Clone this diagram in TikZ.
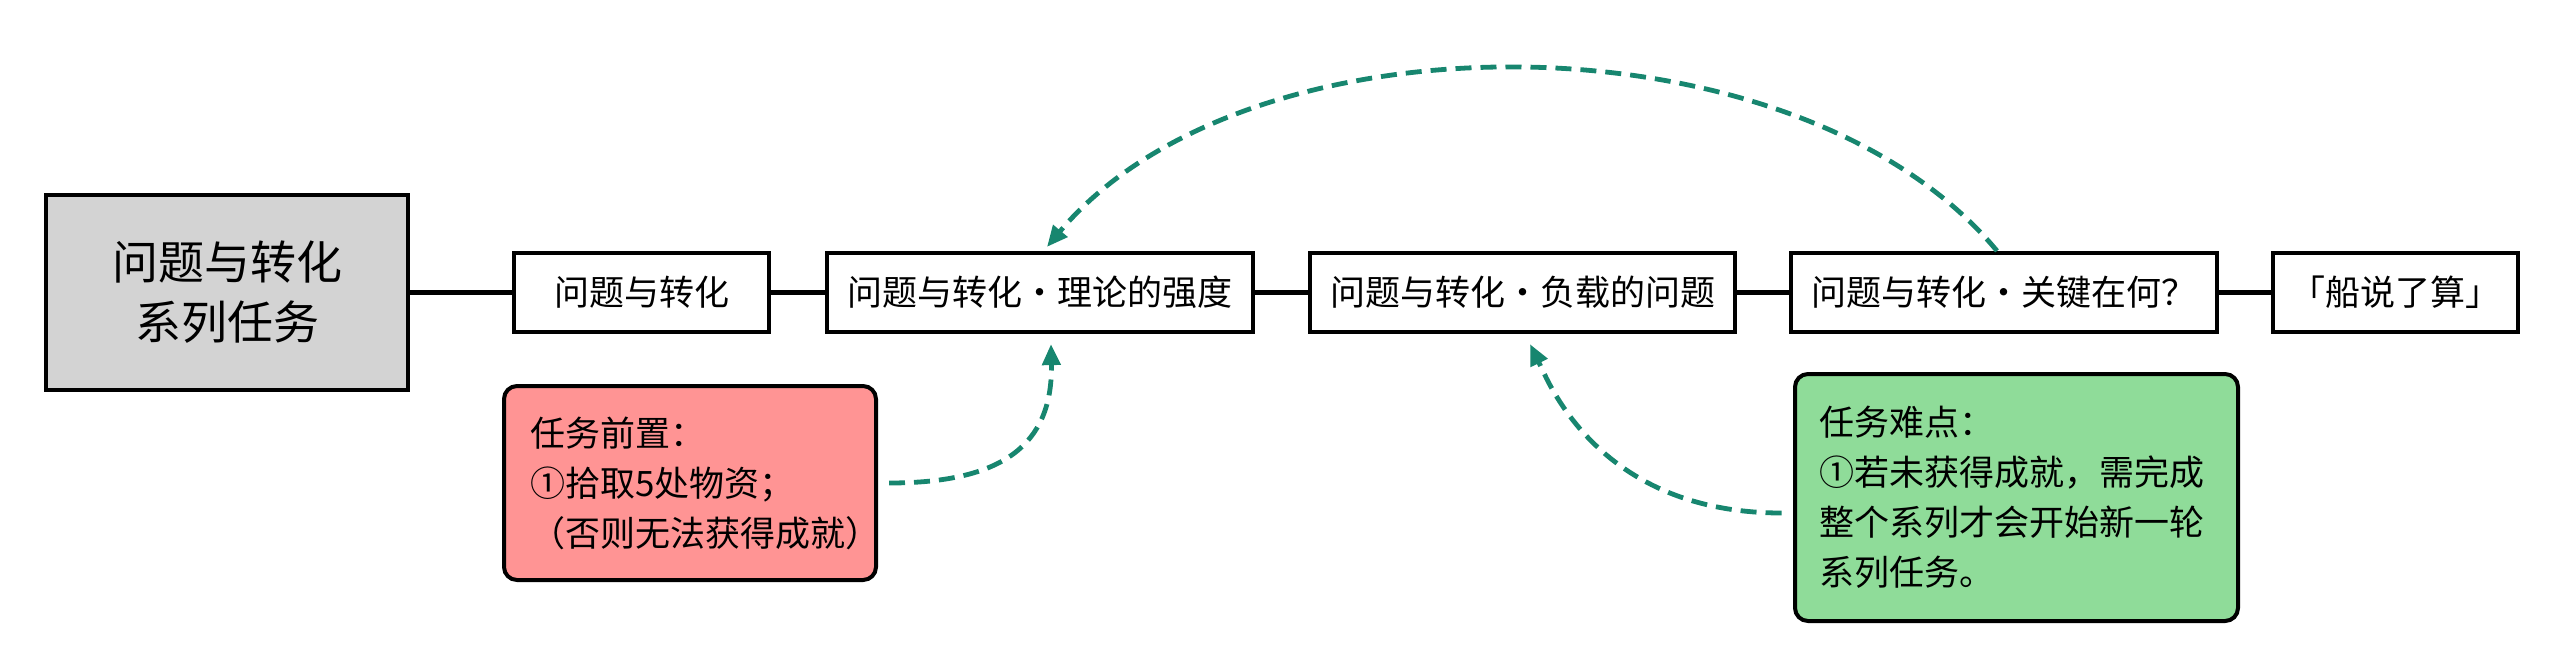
\documentclass[tikz,border=0pt]{standalone}
\usepackage{fontspec}
\setmainfont{Noto Sans CJK SC}
\usetikzlibrary{arrows.meta}
\definecolor{tealarrow}{HTML}{17866F}
\definecolor{redfill}{HTML}{FF9494}
\definecolor{greenfill}{HTML}{8FDC99}
\definecolor{grayfill}{HTML}{D3D3D3}
\begin{document}
\begin{tikzpicture}[x=1pt,y=-1pt,
  stepbox/.style={draw=black, line width=4.2pt, fill=white, inner sep=0pt,
    font=\fontsize{35}{42}\selectfont, minimum height=79pt},
  mainbox/.style={draw=black, line width=4.2pt, fill=grayfill, inner sep=0pt,
    font=\fontsize{46}{60}\selectfont, align=center, minimum width=362pt, minimum height=195pt},
  notebox/.style={draw=black, line width=4pt, rounded corners=13pt, inner ysep=0pt,
    font=\fontsize{35}{50}\selectfont, align=left},
  conn/.style={draw=black, line width=4.2pt},
  arr/.style={draw=tealarrow, line width=4.8pt, dash pattern=on 16pt off 9pt,
    -{Triangle[length=21pt,width=18pt]}}
]
\useasboundingbox (0,0) rectangle (2564,654);

\node[mainbox] (main) at (227,292.5) {问题与转化\\系列任务};
\node[stepbox, minimum width=255pt] (b1) at (641.5,292.5) {问题与转化};
\node[stepbox, minimum width=426pt] (b2) at (1040,292.5) {问题与转化・理论的强度};
\node[stepbox, minimum width=425pt] (b3) at (1522.5,292.5) {问题与转化・负载的问题};
\node[stepbox, minimum width=426pt] (b4) at (2004,292.5) {问题与转化・关键在何？};
\node[stepbox, minimum width=245pt] (b5) at (2395.5,292.5) {「船说了算」};

\node[notebox, fill=redfill, inner xsep=26pt, text width=320pt, minimum height=194pt]
  (pre) at (690,483) {任务前置：\\①拾取5处物资；\\（否则无法获得成就）};
\node[notebox, fill=greenfill, inner xsep=24pt, text width=395pt, minimum height=247pt]
  (diff) at (2016.5,497.5) {任务难点：\\①若未获得成就，需完成\\整个系列才会开始新一轮\\系列任务。};

\draw[conn] (main) -- (b1);
\draw[conn] (b1) -- (b2);
\draw[conn] (b2) -- (b3);
\draw[conn] (b3) -- (b4);
\draw[conn] (b4) -- (b5);

\draw[arr] ([xshift=-7pt]b4.north) .. controls +(-200,-241) and +(200,-239) .. ([xshift=7pt,yshift=4pt]b2.north);
\draw[arr] ([xshift=11pt]pre.east) .. controls +(112,0) and +(2,102) .. ([xshift=11pt,yshift=-10pt]b2.south);
\draw[arr] ([xshift=-11.5pt,yshift=-15.5pt]diff.west) .. controls +(-183,0) and +(18,37) .. ([xshift=7.5pt,yshift=-10pt]b3.south);
\end{tikzpicture}
\end{document}
